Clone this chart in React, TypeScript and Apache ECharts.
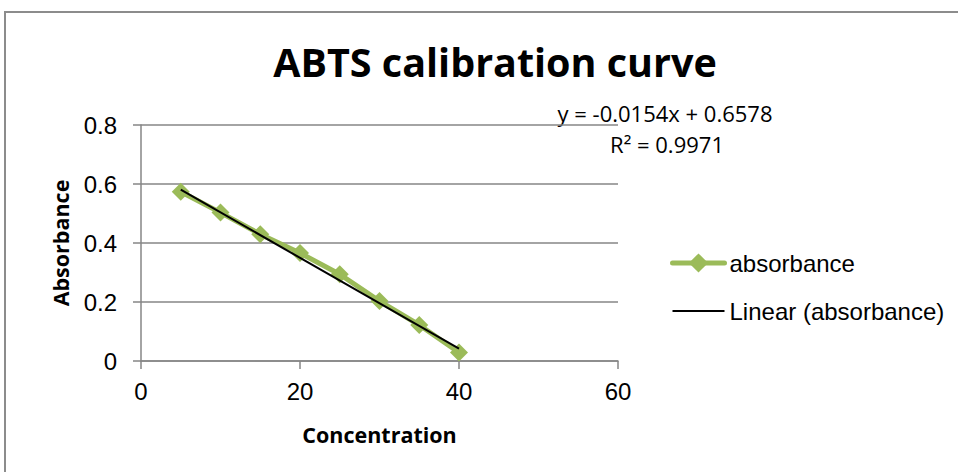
import React, { useEffect, useRef } from "react";
import * as echarts from "echarts";

const concentration = [5, 10, 15, 20, 25, 30, 35, 40];
const absorbance = [0.574, 0.503, 0.43, 0.366, 0.294, 0.203, 0.122, 0.029];
const slope = -0.0154;
const intercept = 0.6578;
const trendX = [5, 40];
const equationText = "y = -0.0154x + 0.6578";
const r2Text = "R² = 0.9971";

const CAL = "'Open Sans', 'Noto Sans', sans-serif";
const ARIAL = "'Liberation Sans', Arial, sans-serif";

export default function App() {
  const ref = useRef<HTMLDivElement>(null);
  useEffect(() => {
    if (!ref.current) return;
    const chart = echarts.init(ref.current, undefined, { renderer: "svg" });
    const points = concentration.map((x, i) => [x, absorbance[i]]);
    const trend = trendX.map((x) => [x, slope * x + intercept]);
    chart.setOption({
      animation: false,
      backgroundColor: "#fff",
      title: {
        text: "ABTS calibration curve",
        left: 490,
        top: 37,
        textAlign: "center",
        textStyle: { fontFamily: CAL, fontWeight: "bold", fontSize: 39.5, color: "#000" },
      },
      grid: { left: 141, right: 340, top: 125, bottom: 111, containLabel: false },
      xAxis: {
        type: "value",
        min: 0,
        max: 60,
        interval: 20,
        name: "Concentration",
        nameLocation: "middle",
        nameGap: 62,
        nameTextStyle: { fontFamily: CAL, fontWeight: "bold", fontSize: 21.5, color: "#000" },
        axisLine: { show: true, onZero: false, lineStyle: { color: "#868686", width: 1.5 } },
        axisTick: { show: true, inside: false, length: 8, lineStyle: { color: "#868686", width: 1.5 } },
        axisLabel: { fontFamily: ARIAL, fontSize: 24, color: "#000", margin: 18 },
        splitLine: { show: false },
      },
      yAxis: {
        type: "value",
        min: 0,
        max: 0.8,
        interval: 0.2,
        name: "Absorbance",
        nameLocation: "middle",
        nameGap: 70,
        nameRotate: 90,
        nameTextStyle: { fontFamily: CAL, fontWeight: "bold", fontSize: 21.5, color: "#000" },
        axisLine: { show: true, lineStyle: { color: "#868686", width: 1.5 } },
        axisTick: { show: true, inside: false, length: 8, lineStyle: { color: "#868686", width: 1.5 } },
        axisLabel: {
          fontFamily: ARIAL,
          fontSize: 24,
          color: "#000",
          margin: 24,
          formatter: (v: number) => (v === 0 ? "0" : String(Math.round(v * 10) / 10)),
        },
        splitLine: { show: true, lineStyle: { color: "#868686", width: 1.5 } },
      },
      legend: {
        orient: "vertical",
        left: 665,
        top: 246,
        itemGap: 24,
        itemWidth: 52,
        itemHeight: 24,
        textStyle: { fontFamily: ARIAL, fontSize: 24, color: "#000" },
        data: [
          {
            name: "absorbance",
            lineStyle: { width: 5, color: "#9BBB59", cap: "round" },
            itemStyle: { color: "#9BBB59" },
          },
          {
            name: "Linear (absorbance)",
            icon: "path://M0,0 L50,0 L50,2 L0,2 Z",
            itemStyle: { color: "#000" },
          },
        ],
      },
      series: [
        {
          name: "absorbance",
          type: "line",
          data: points,
          color: "#9BBB59",
          lineStyle: { color: "#9BBB59", width: 5 },
          symbol: "diamond",
          symbolSize: 18,
          itemStyle: { color: "#9BBB59" },
          z: 2,
        },
        {
          name: "Linear (absorbance)",
          type: "line",
          data: trend,
          color: "#000",
          lineStyle: { color: "#000", width: 2 },
          symbol: "none",
          showSymbol: false,
          z: 3,
        },
      ],
      graphic: [
        {
          type: "rect",
          shape: { x: 5, y: 12, width: 1100, height: 600 },
          style: { fill: "none", stroke: "#8c8c8c", lineWidth: 2 },
          silent: true,
        },
        {
          type: "text",
          x: 665,
          y: 113,
          style: {
            text: equationText,
            fontFamily: CAL,
            fontSize: 22,
            fill: "#000",
            align: "center",
            verticalAlign: "middle",
          },
        },
        {
          type: "text",
          x: 667,
          y: 144,
          style: {
            text: r2Text,
            fontFamily: CAL,
            fontSize: 22,
            fill: "#000",
            align: "center",
            verticalAlign: "middle",
          },
        },
      ],
    });
    return () => chart.dispose();
  }, []);
  return (
    <div
      ref={ref}
      style={{ position: "absolute", left: 0, top: 0, width: 958, height: 472 }}
    />
  );
}
